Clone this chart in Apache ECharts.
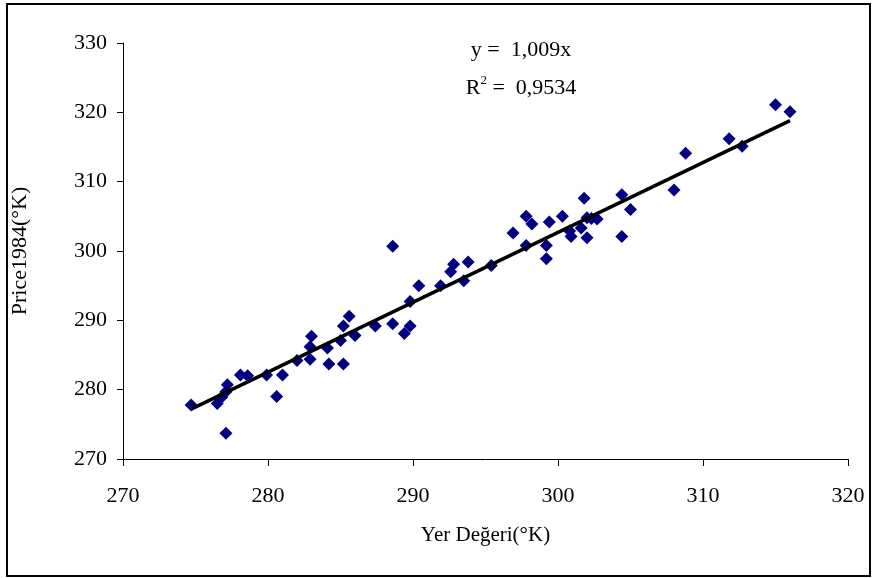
<!DOCTYPE html>
<html>
<head>
<meta charset="utf-8">
<script src="https://cdn.jsdelivr.net/npm/echarts@6/dist/echarts.min.js"></script>
<style>
  html, body { margin: 0; padding: 0; background: #fff; }
  #chart { width: 875px; height: 578px; }
</style>
</head>
<body>
<div id="chart"></div>
<script>
const yerDegeri = [
  274.7, 276.5, 276.8, 277.1, 277.2, 277.1, 278.1, 278.6, 279.9, 280.6,
  281.0, 282.0, 282.9, 282.9, 283.0, 284.1, 284.2, 285.0, 285.2, 285.2,
  285.6, 286.0, 287.4, 288.6, 288.6, 289.4, 289.8, 289.8, 290.4, 291.9,
  292.6, 292.8, 293.5, 293.8, 295.4, 296.9, 297.8, 297.8, 298.2, 299.2,
  299.2, 299.4, 300.3, 300.8, 300.9, 301.6, 301.8, 302.0, 302.0, 302.3,
  302.7, 304.4, 304.4, 305.0, 308.0, 308.8, 311.8, 312.7, 315.0, 316.0
];
const price1984 = [
  277.8, 278.0, 278.9, 279.7, 280.7, 273.7, 282.1, 282.0, 282.1, 279.0,
  282.1, 284.2, 284.4, 286.2, 287.7, 286.0, 283.7, 287.1, 283.7, 289.2,
  290.6, 287.8, 289.2, 289.5, 300.7, 288.1, 289.2, 292.7, 295.0, 295.0,
  297.0, 298.1, 295.7, 298.4, 297.9, 302.6, 300.8, 305.0, 303.9, 298.9,
  300.8, 304.2, 305.0, 302.9, 302.1, 303.3, 307.6, 304.8, 301.9, 304.7,
  304.6, 302.1, 308.1, 306.0, 308.8, 314.1, 316.2, 315.1, 321.1, 320.1
];
// Trendline y = 1,009x end points as drawn
const trendX = [274.7, 316.0];
const trendY = [277.2, 318.8];

const xTicks = [270, 280, 290, 300, 310, 320];
const yTicks = [270, 280, 290, 300, 310, 320, 330];

const FONT = '"Liberation Serif", "Times New Roman", serif';

const chart = echarts.init(document.getElementById('chart'));

chart.setOption({
  backgroundColor: '#fff',
  animation: false,
  grid: { left: 123, right: 27, top: 43, bottom: 119 },
  xAxis: {
    type: 'value',
    min: xTicks[0],
    max: xTicks[xTicks.length - 1],
    interval: 10,
    name: 'Yer Değeri(°K)',
    nameLocation: 'middle',
    nameGap: 66,
    nameTextStyle: { color: '#000', fontFamily: FONT, fontSize: 21 },
    axisLine: { lineStyle: { color: '#000', width: 1 } },
    axisTick: { show: true, length: 7, lineStyle: { color: '#000' } },
    axisLabel: { color: '#000', fontFamily: FONT, fontSize: 22, margin: 26 },
    splitLine: { show: false }
  },
  yAxis: {
    type: 'value',
    min: yTicks[0],
    max: yTicks[yTicks.length - 1],
    interval: 10,
    name: 'Price1984(°K)',
    nameLocation: 'middle',
    nameGap: 92,
    nameTextStyle: { color: '#000', fontFamily: FONT, fontSize: 22 },
    axisLine: { show: true, lineStyle: { color: '#000', width: 1 } },
    axisTick: { show: true, length: 6, lineStyle: { color: '#000' } },
    axisLabel: { color: '#000', fontFamily: FONT, fontSize: 22, margin: 16 },
    splitLine: { show: false }
  },
  series: [
    {
      type: 'scatter',
      symbol: 'diamond',
      symbolSize: 13,
      itemStyle: { color: '#000080', opacity: 1 },
      data: yerDegeri.map((x, i) => [x, price1984[i]]),
      z: 2
    },
    {
      type: 'line',
      data: trendX.map((x, i) => [x, trendY[i]]),
      symbol: 'none',
      lineStyle: { color: '#000', width: 3.5 },
      z: 3
    }
  ],
  graphic: [
    {
      type: 'rect',
      shape: { x: 7, y: 4, width: 863, height: 572 },
      style: { fill: 'none', stroke: '#000', lineWidth: 2 }
    },
    {
      type: 'text',
      x: 521, y: 50,
      style: {
        text: 'y =  1,009x',
        font: '22px ' + FONT,
        fill: '#000',
        align: 'center',
        verticalAlign: 'middle'
      }
    },
    {
      type: 'text',
      x: 521, y: 88,
      style: {
        text: 'R{sup|2} =  0,9534',
        font: '22px ' + FONT,
        fill: '#000',
        align: 'center',
        verticalAlign: 'middle',
        rich: {
          sup: { fontSize: 13, fontFamily: FONT, verticalAlign: 'top', padding: [0, 0, 14, 0] }
        }
      }
    }
  ]
});
</script>
</body>
</html>
